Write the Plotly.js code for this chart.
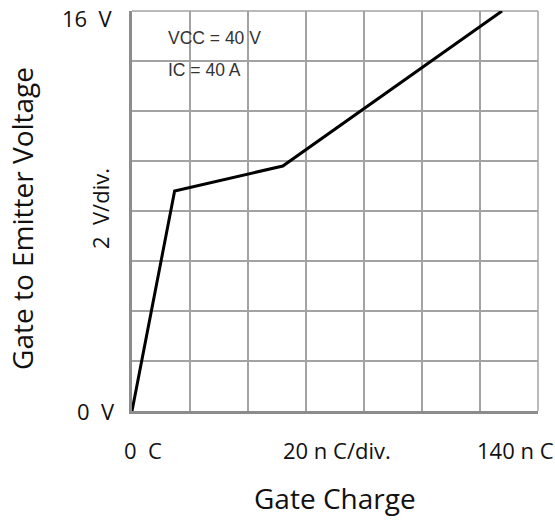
<!DOCTYPE html>
<html>
<head>
<meta charset="utf-8">
<script src="https://cdn.plot.ly/plotly-3.0.1.min.js"></script>
<style>html,body{margin:0;padding:0;background:#fff;}#chart{width:555px;height:523px;}</style>
</head>
<body>
<div id="chart"></div>
<script>
// Data
const gateCharge_nC = [0, 14.7, 52, 127.6];
const gateVoltage_V = [0, 8.8, 9.8, 16];
const xTickLabels = ["0  C", "20 n C/div.", "140 n C"];
const yTickLabels = ["0  V", "2  V/div.", "16  V"];
const conditions = ["VCC = 40 V", "IC = 40 A"];

const labelFont = {family: "Open Sans, Noto Sans, sans-serif", size: 22, color: "#111"};
const titleFont = {family: "Open Sans, Noto Sans, sans-serif", size: 28, color: "#111"};
const condFont = {family: "Liberation Sans, Arial, sans-serif", size: 17.5, color: "#333"};

const trace = {
  x: gateCharge_nC, y: gateVoltage_V, type: "scatter", mode: "lines",
  line: {color: "#000", width: 3}, hoverinfo: "skip", cliponaxis: true
};

function ann(text, x, y, xanchor, font, angle) {
  return {text: text, x: x, y: y, xref: "paper", yref: "paper", xanchor: xanchor, yanchor: "middle",
          showarrow: false, font: font, textangle: angle || 0};
}

const layout = {
  width: 555, height: 523,
  margin: {l: 132, r: 17, t: 11, b: 112},
  paper_bgcolor: "#fff", plot_bgcolor: "#fff",
  showlegend: false,
  xaxis: {range: [0, 140], dtick: 20, tick0: 0, showticklabels: false, ticks: "",
          showgrid: true, gridcolor: "#a3a3a3", gridwidth: 1.5, zeroline: false,
          showline: true, linecolor: "#8c8c8c", linewidth: 3, fixedrange: true},
  yaxis: {range: [0, 16], dtick: 2, tick0: 0, showticklabels: false, ticks: "",
          showgrid: true, gridcolor: "#a3a3a3", gridwidth: 1.5, zeroline: false,
          showline: true, linecolor: "#8c8c8c", linewidth: 3, fixedrange: true},
  shapes: [
    {type: "line", xref: "paper", yref: "paper", x0: 0, x1: 1, y0: 1, y1: 1, line: {color: "#a3a3a3", width: 1.5}, layer: "below"},
    {type: "line", xref: "paper", yref: "paper", x0: 1, x1: 1, y0: 0, y1: 1, line: {color: "#a3a3a3", width: 1.5}, layer: "below"}
  ],
  annotations: [
    ann(yTickLabels[2], -0.0419, 0.9825, "right", labelFont),
    ann(yTickLabels[0], -0.037, 0, "right", labelFont),
    ann(yTickLabels[1], -0.0788, 0.505, "center", labelFont, -90),
    ann(xTickLabels[0], -0.0246, -0.0975, "left", labelFont),
    ann(xTickLabels[1], 0.367, -0.0975, "left", labelFont),
    ann(xTickLabels[2], 0.845, -0.0975, "left", labelFont),
    ann("Gate Charge", 0.5, -0.2175, "center", titleFont),
    ann("Gate to Emitter Voltage", -0.271, 0.4825, "center", titleFont, -90),
    ann(conditions[0], 0.0837, 0.9325, "left", condFont),
    ann(conditions[1], 0.0837, 0.8525, "left", condFont)
  ]
};

Plotly.newPlot("chart", [trace], layout, {displayModeBar: false, staticPlot: true});
</script>
</body>
</html>
